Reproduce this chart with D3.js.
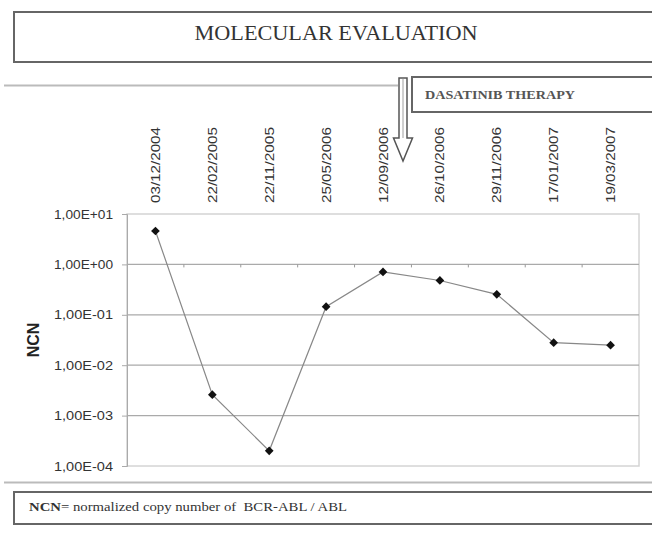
<!DOCTYPE html>
<html>
<head>
<meta charset="utf-8">
<script src="https://cdn.jsdelivr.net/npm/d3@7"></script>
<style>
  html, body { margin: 0; padding: 0; background: #fff; }
  svg { display: block; }
</style>
</head>
<body>
<div id="chart"></div>
<script>
// ---- data ----
const dates = ["03/12/2004", "22/02/2005", "22/11/2005", "25/05/2006", "12/09/2006",
               "26/10/2006", "29/11/2006", "17/01/2007", "19/03/2007"];
const ncnValues = [4.6, 0.0026, 0.0002, 0.145, 0.71, 0.48, 0.255, 0.028, 0.025];
const yTickValues = [1e-4, 1e-3, 1e-2, 1e-1, 1e0, 1e1];
const yTickLabels = ["1,00E-04", "1,00E-03", "1,00E-02", "1,00E-01", "1,00E+00", "1,00E+01"];
const titleText = "MOLECULAR EVALUATION";
const therapyText = "DASATINIB THERAPY";
const yAxisTitle = "NCN";

// ---- layout ----
const W = 652, H = 534;
const plot = { left: 127, right: 639, top: 214, bottom: 466 };

const svg = d3.select("#chart").append("svg")
  .attr("width", W).attr("height", H);

const x = d3.scaleBand().domain(dates).range([plot.left, plot.right]);
const y = d3.scaleLog().domain([1e-4, 1e1]).range([plot.bottom, plot.top]);
const cx = d => x(d) + x.bandwidth() / 2;

// title box
svg.append("rect").attr("x", 14).attr("y", 12).attr("width", 720).attr("height", 50)
  .attr("fill", "#fff").attr("stroke", "#666").attr("stroke-width", 2);
svg.append("text").attr("x", 336).attr("y", 40).attr("text-anchor", "middle")
  .attr("font-family", "'Liberation Serif', 'Times New Roman', serif")
  .attr("font-size", 21).attr("fill", "#333")
  .attr("textLength", 283).attr("lengthAdjust", "spacingAndGlyphs")
  .text(titleText);

// top grey line
svg.append("line").attr("x1", 4).attr("x2", 398).attr("y1", 85.5).attr("y2", 85.5)
  .attr("stroke", "#bbb").attr("stroke-width", 2);
// bottom grey line
svg.append("line").attr("x1", 4).attr("x2", 652).attr("y1", 482.5).attr("y2", 482.5)
  .attr("stroke", "#bbb").attr("stroke-width", 2);

// therapy box
svg.append("rect").attr("x", 412).attr("y", 77).attr("width", 320).attr("height", 35)
  .attr("fill", "#fff").attr("stroke", "#666").attr("stroke-width", 2);
svg.append("text").attr("x", 425).attr("y", 99)
  .attr("font-family", "'Liberation Serif', 'Times New Roman', serif")
  .attr("font-size", 13).attr("font-weight", "bold").attr("fill", "#555")
  .attr("textLength", 150).attr("lengthAdjust", "spacingAndGlyphs")
  .text(therapyText);

// arrow
const arrowPath = d3.path();
arrowPath.moveTo(399, 78); arrowPath.lineTo(407, 78); arrowPath.lineTo(407, 138);
arrowPath.lineTo(412.5, 138); arrowPath.lineTo(403, 161); arrowPath.lineTo(393.5, 138);
arrowPath.lineTo(399, 138); arrowPath.closePath();
svg.append("path").attr("d", arrowPath.toString()).attr("fill", "#fff")
  .attr("stroke", "#555").attr("stroke-width", 1.5);
svg.append("line").attr("x1", 403).attr("x2", 403).attr("y1", 78).attr("y2", 138)
  .attr("stroke", "#888").attr("stroke-width", 0.8);

// plot area border
svg.append("rect").attr("x", plot.left).attr("y", plot.top)
  .attr("width", plot.right - plot.left).attr("height", plot.bottom - plot.top)
  .attr("fill", "none").attr("stroke", "#d4d4d4").attr("stroke-width", 1.5);

// gridlines
svg.append("g").selectAll("line").data(yTickValues.slice(1, -1)).join("line")
  .attr("x1", plot.left).attr("x2", plot.right)
  .attr("y1", d => y(d)).attr("y2", d => y(d))
  .attr("stroke", "#aaa").attr("stroke-width", 1.2);

// y axis
const yAxis = d3.axisLeft(y).tickValues(yTickValues)
  .tickFormat((d, i) => yTickLabels[i]).tickSize(5).tickPadding(9);
const gy = svg.append("g").attr("transform", `translate(${plot.left},0)`).call(yAxis);
gy.select(".domain").attr("stroke", "#aaa");
gy.selectAll(".tick line").attr("stroke", "#aaa");
gy.selectAll("text").attr("font-family", "'Liberation Sans', Arial, sans-serif")
  .attr("font-size", 13).attr("fill", "#333")
  .attr("textLength", 59).attr("lengthAdjust", "spacingAndGlyphs");

// x axis (crosses at 1) with boundary ticks
const gx = svg.append("g");
gx.selectAll("line").data(dates.slice(1)).join("line")
  .attr("x1", d => x(d)).attr("x2", d => x(d))
  .attr("y1", y(1)).attr("y2", y(1) + 3)
  .attr("stroke", "#999");

// date labels (top, rotated)
svg.append("g").selectAll("text").data(dates).join("text")
  .attr("transform", d => `translate(${cx(d) + 4.5},203) rotate(-90)`)
  .attr("font-family", "'Liberation Sans', Arial, sans-serif")
  .attr("font-size", 13).attr("fill", "#333")
  .attr("textLength", 76).attr("lengthAdjust", "spacingAndGlyphs")
  .text(d => d);

// y axis title
svg.append("text").attr("transform", "translate(39,340) rotate(-90)")
  .attr("text-anchor", "middle")
  .attr("font-family", "'Liberation Sans', Arial, sans-serif")
  .attr("font-size", 16).attr("font-weight", "bold").attr("fill", "#222")
  .text(yAxisTitle);

// line
const line = d3.line().x((d, i) => cx(dates[i])).y(d => y(d));
svg.append("path").datum(ncnValues).attr("d", line)
  .attr("fill", "none").attr("stroke", "#888").attr("stroke-width", 1.2);

// markers
svg.append("g").selectAll("path").data(ncnValues).join("path")
  .attr("transform", (d, i) => `translate(${cx(dates[i])},${y(d)}) rotate(45)`)
  .attr("d", d3.symbol().type(d3.symbolSquare).size(38))
  .attr("fill", "#111");

// footnote box
svg.append("rect").attr("x", 14).attr("y", 492).attr("width", 720).attr("height", 32)
  .attr("fill", "#fff").attr("stroke", "#666").attr("stroke-width", 2);
const foot = svg.append("text").attr("x", 29).attr("y", 511)
  .attr("font-family", "'Liberation Serif', 'Times New Roman', serif")
  .attr("font-size", 13).attr("fill", "#333").style("white-space", "pre")
  .attr("textLength", 318).attr("lengthAdjust", "spacingAndGlyphs");
foot.append("tspan").attr("font-weight", "bold").text("NCN");
foot.append("tspan").text("= normalized copy number of  BCR-ABL / ABL");
</script>
</body>
</html>
